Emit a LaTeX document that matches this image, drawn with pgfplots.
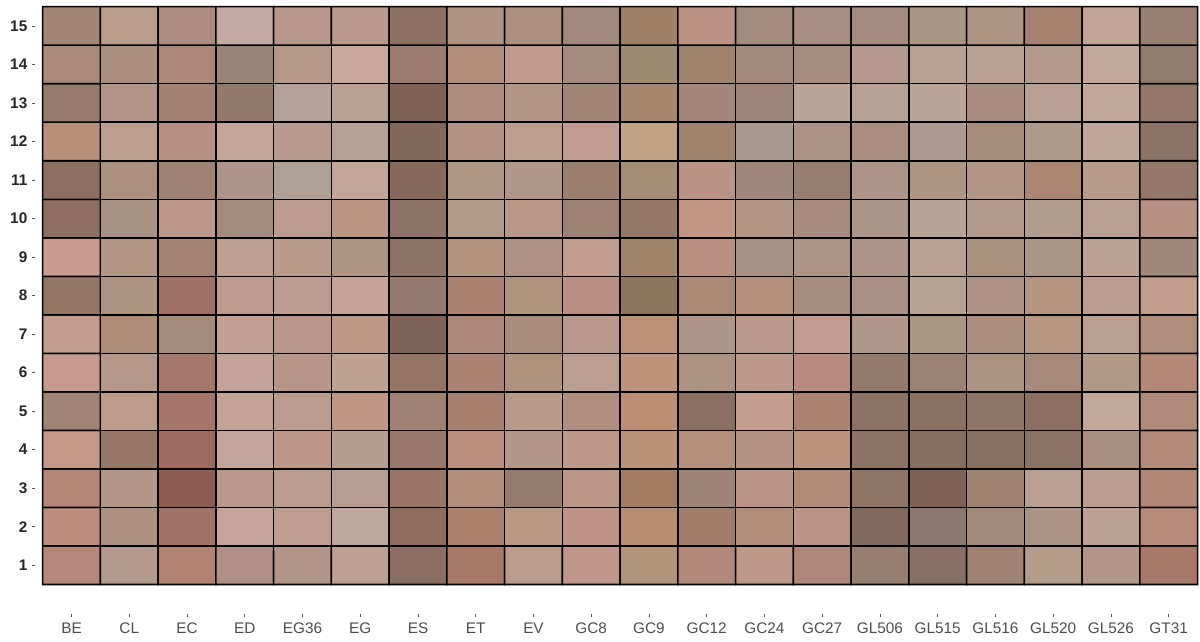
\documentclass[border=0pt]{standalone}
\usepackage{pgfplots}
\pgfplotsset{compat=1.18}
\usepackage{fontspec}
\setmainfont{Liberation Sans}
\definecolor{ticktext}{HTML}{4D4D4D}
\definecolor{tickmark}{HTML}{555555}
\begin{document}
\begin{tikzpicture}
\useasboundingbox (-26.25pt,-21pt) rectangle (873.75pt,460.5pt);
% matrix plot lays rows out top-down, so rows are placed at -row
\begin{axis}[
  at={(0pt,0pt)}, anchor=south west,
  scale only axis,
  width=871.9pt, height=455.5pt,
  xmin=-0.633, xmax=19.5,
  ymin=-15.5, ymax=0.266,
  clip=false,
  axis x line*=bottom, axis y line*=left,
  axis line style={draw=none},
  tick align=outside,
  major tick length=2.25pt,
  tick style={color=tickmark, line width=0.6pt},
  xtick={0,...,19},
  xticklabels={BE,CL,EC,ED,EG36,EG,ES,ET,EV,GC8,GC9,GC12,GC24,GC27,GL506,GL515,GL516,GL520,GL526,GT31},
  ytick={-15,...,-1},
  yticklabels={15,14,13,12,11,10,9,8,7,6,5,4,3,2,1},
  xticklabel style={font=\fontsize{11.5}{13}\selectfont, color=ticktext, yshift=-1pt},
  yticklabel style={font=\fontsize{11.5}{13}\selectfont\bfseries, color=black!85},
]
\addplot[
  matrix plot,
  mesh/cols=20,
  mesh/color input=explicit,
  point meta=explicit symbolic,
  shader=faceted,
  faceted color=black,
  line width=1.15pt,
] table[y expr=-\thisrow{y}, meta=c] {
x y c
0 1 HTML=B4897B
1 1 HTML=B4998D
2 1 HTML=B28273
3 1 HTML=B09086
4 1 HTML=B19586
5 1 HTML=BEA092
6 1 HTML=8A6E62
7 1 HTML=A77968
8 1 HTML=BA9C8D
9 1 HTML=BE968A
10 1 HTML=B1947C
11 1 HTML=B0897A
12 1 HTML=BC9989
13 1 HTML=AF887C
14 1 HTML=967E70
15 1 HTML=876F63
16 1 HTML=A08373
17 1 HTML=B49C8B
18 1 HTML=B29687
19 1 HTML=A6796A
0 2 HTML=BD8C7D
1 2 HTML=AC9181
2 2 HTML=A07368
3 2 HTML=C5A59B
4 2 HTML=BE9C8F
5 2 HTML=BEA79B
6 2 HTML=8D6C5D
7 2 HTML=AC826F
8 2 HTML=B79883
9 2 HTML=BF9286
10 2 HTML=B78C71
11 2 HTML=A07D6B
12 2 HTML=B18D7B
13 2 HTML=B89586
14 2 HTML=816A5D
15 2 HTML=8B776D
16 2 HTML=A3897A
17 2 HTML=AC9484
18 2 HTML=BAA194
19 2 HTML=B68B79
0 3 HTML=B48677
1 3 HTML=B29788
2 3 HTML=8C5C52
3 3 HTML=BA9A8F
4 3 HTML=BA9C8F
5 3 HTML=B69C91
6 3 HTML=9A7666
7 3 HTML=B28D7C
8 3 HTML=967C6C
9 3 HTML=BC9688
10 3 HTML=A37D61
11 3 HTML=9E8477
12 3 HTML=BA9486
13 3 HTML=B08C78
14 3 HTML=8F7566
15 3 HTML=7D6155
16 3 HTML=A08473
17 3 HTML=B89F91
18 3 HTML=BA9D8F
19 3 HTML=B08776
0 4 HTML=C4998A
1 4 HTML=967768
2 4 HTML=9D6B62
3 4 HTML=C3A59B
4 4 HTML=BC9687
5 4 HTML=B49C8E
6 4 HTML=98786C
7 4 HTML=BA8F7E
8 4 HTML=B29687
9 4 HTML=BD998A
10 4 HTML=B9927A
11 4 HTML=B4907C
12 4 HTML=B49283
13 4 HTML=BA937E
14 4 HTML=8C7366
15 4 HTML=866D60
16 4 HTML=887060
17 4 HTML=8B7366
18 4 HTML=A88E7E
19 4 HTML=B18A79
0 5 HTML=A08576
1 5 HTML=BC9B8B
2 5 HTML=A5746A
3 5 HTML=C3A497
4 5 HTML=B99B90
5 5 HTML=BE9684
6 5 HTML=A08275
7 5 HTML=A67F6F
8 5 HTML=B69B8A
9 5 HTML=B08E80
10 5 HTML=BC8F75
11 5 HTML=8A7063
12 5 HTML=C39D8F
13 5 HTML=AA8372
14 5 HTML=8C7265
15 5 HTML=8A7164
16 5 HTML=8E7567
17 5 HTML=8C7163
18 5 HTML=C2A89B
19 5 HTML=B08A7A
0 6 HTML=C69A8E
1 6 HTML=B4998A
2 6 HTML=A4776B
3 6 HTML=C3A399
4 6 HTML=B79689
5 6 HTML=BEA291
6 6 HTML=957565
7 6 HTML=AA8372
8 6 HTML=AF927B
9 6 HTML=BA9F91
10 6 HTML=BE937B
11 6 HTML=AC9280
12 6 HTML=BB988A
13 6 HTML=B88B80
14 6 HTML=927A6C
15 6 HTML=9B8273
16 6 HTML=AC9281
17 6 HTML=A68A79
18 6 HTML=B19887
19 6 HTML=B48877
0 7 HTML=C29C8E
1 7 HTML=AE8D78
2 7 HTML=A58B7C
3 7 HTML=C3A296
4 7 HTML=B8978A
5 7 HTML=BC9987
6 7 HTML=7D6358
7 7 HTML=AC887A
8 7 HTML=A88D7C
9 7 HTML=B9998E
10 7 HTML=BE9279
11 7 HTML=AE9589
12 7 HTML=B9998B
13 7 HTML=C09B90
14 7 HTML=AF978B
15 7 HTML=AC9684
16 7 HTML=AC8E7D
17 7 HTML=B69782
18 7 HTML=B89F92
19 7 HTML=B08E7E
0 8 HTML=947665
1 8 HTML=AB9281
2 8 HTML=9F7065
3 8 HTML=BE9B90
4 8 HTML=BB9C91
5 8 HTML=C5A498
6 8 HTML=93796E
7 8 HTML=AA8070
8 8 HTML=AF947E
9 8 HTML=B89083
10 8 HTML=8D745D
11 8 HTML=AA8977
12 8 HTML=B38F7C
13 8 HTML=A68D80
14 8 HTML=A89084
15 8 HTML=B5A293
16 8 HTML=AE9285
17 8 HTML=B4957F
18 8 HTML=BA9D8E
19 8 HTML=C09D8D
0 9 HTML=C89C91
1 9 HTML=B29685
2 9 HTML=A68474
3 9 HTML=BEA092
4 9 HTML=B89B8B
5 9 HTML=AE9482
6 9 HTML=8D7366
7 9 HTML=B2937F
8 9 HTML=AD9182
9 9 HTML=C09C8D
10 9 HTML=9F846B
11 9 HTML=B89182
12 9 HTML=A89285
13 9 HTML=AD9486
14 9 HTML=AC9588
15 9 HTML=B79F91
16 9 HTML=A8917E
17 9 HTML=AB9585
18 9 HTML=BCA294
19 9 HTML=A0887A
0 10 HTML=8E6F61
1 10 HTML=A89284
2 10 HTML=BC998B
3 10 HTML=A48A7C
4 10 HTML=BA9B8E
5 10 HTML=B99582
6 10 HTML=8D7366
7 10 HTML=B29A89
8 10 HTML=B79889
9 10 HTML=9C8172
10 10 HTML=937965
11 10 HTML=C29785
12 10 HTML=B49686
13 10 HTML=A68B7D
14 10 HTML=AC9689
15 10 HTML=B8A496
16 10 HTML=B19A8C
17 10 HTML=B29D8C
18 10 HTML=BAA092
19 10 HTML=B79284
0 11 HTML=8E7062
1 11 HTML=AC907F
2 11 HTML=A08274
3 11 HTML=AE958C
4 11 HTML=AFA095
5 11 HTML=C4A699
6 11 HTML=87695B
7 11 HTML=AF9685
8 11 HTML=B19789
9 11 HTML=9B7F6F
10 11 HTML=A58C77
11 11 HTML=B99385
12 11 HTML=A0877C
13 11 HTML=967D6F
14 11 HTML=AC9488
15 11 HTML=AE9483
16 11 HTML=B29683
17 11 HTML=AA8673
18 11 HTML=B79B89
19 11 HTML=94796A
0 12 HTML=B8907A
1 12 HTML=BC9E8F
2 12 HTML=B59083
3 12 HTML=C3A599
4 12 HTML=B89B8E
5 12 HTML=B7A096
6 12 HTML=82675B
7 12 HTML=B29383
8 12 HTML=BC9E8F
9 12 HTML=C09C91
10 12 HTML=C1A486
11 12 HTML=9E826C
12 12 HTML=A89890
13 12 HTML=AC9284
14 12 HTML=A98D7E
15 12 HTML=AD9892
16 12 HTML=A68D7B
17 12 HTML=AF9989
18 12 HTML=C0A698
19 12 HTML=8B7366
0 13 HTML=967A6C
1 13 HTML=B19586
2 13 HTML=A28373
3 13 HTML=91796C
4 13 HTML=B4A099
5 13 HTML=BAA092
6 13 HTML=7E6155
7 13 HTML=AD8D7D
8 13 HTML=B29685
9 13 HTML=A18575
10 13 HTML=A5866E
11 13 HTML=A3877A
12 13 HTML=9E857A
13 13 HTML=BAA598
14 13 HTML=B7A196
15 13 HTML=BBA599
16 13 HTML=A88D7F
17 13 HTML=B89F93
18 13 HTML=C1A799
19 13 HTML=94796B
0 14 HTML=AA8A7A
1 14 HTML=AA8F7E
2 14 HTML=AC887A
3 14 HTML=988577
4 14 HTML=B49888
5 14 HTML=C7A89B
6 14 HTML=9B7C6E
7 14 HTML=B08E7A
8 14 HTML=BE9B8C
9 14 HTML=A38A7D
10 14 HTML=9E8A70
11 14 HTML=9E826B
12 14 HTML=A2897B
13 14 HTML=A78D7F
14 14 HTML=B4988D
15 14 HTML=B8A092
16 14 HTML=BAA091
17 14 HTML=B2998A
18 14 HTML=C1A89A
19 14 HTML=927C6E
0 15 HTML=A38575
1 15 HTML=B99C8C
2 15 HTML=AC8C80
3 15 HTML=C3AAA3
4 15 HTML=B7988B
5 15 HTML=B8998B
6 15 HTML=8C7162
7 15 HTML=AF9280
8 15 HTML=AC8F7D
9 15 HTML=A3897D
10 15 HTML=9E7F67
11 15 HTML=BB9384
12 15 HTML=A28A7C
13 15 HTML=A88E82
14 15 HTML=A58B7F
15 15 HTML=AA9584
16 15 HTML=AE9482
17 15 HTML=A68370
18 15 HTML=C1A496
19 15 HTML=987F72
};
\end{axis}
\end{tikzpicture}
\end{document}
